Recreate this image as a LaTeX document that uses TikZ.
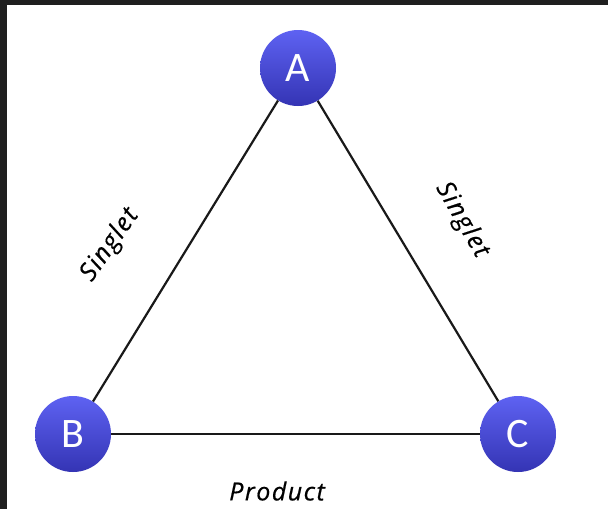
\documentclass[tikz,border=0pt]{standalone}
\usepackage{fontspec}
\setmainfont{Carlito}
\newfontfamily\labelfont[LetterSpace=6,FakeBold=0.6]{Open Sans}
\definecolor{darkbar}{HTML}{1F1F1F}
\definecolor{balltop}{HTML}{5E62F2}
\definecolor{ballbot}{HTML}{3434B4}
\begin{document}
\begin{tikzpicture}[x=1pt,y=-1pt,
  ball/.style={circle, minimum size=76pt, inner sep=0pt, top color=balltop, bottom color=ballbot, draw=none, text=white, font=\fontsize{42}{42}\selectfont},
  edge/.style={line width=2.2pt, black!90},
  lab/.style={font=\labelfont\itshape\fontsize{25}{25}\selectfont, inner sep=0pt}]
\useasboundingbox (0,0) rectangle (608,509);
\fill[white] (0,0) rectangle (608,509);
\fill[darkbar] (0,0) rectangle (608,5);
\fill[darkbar] (0,0) rectangle (7,509);
\node[ball] (A) at (298,68) {A};
\node[ball] (B) at (73,434) {B};
\node[ball] (C) at (518,434) {C};
\draw[edge] (A) -- (B);
\draw[edge] (A) -- (C);
\draw[edge] (B) -- (C);
\node[lab, rotate=55] (l1) at (110,245) {Singlet};
\node[lab, rotate=-60] (l2) at (462,220) {Singlet};
\node[lab] (l3) at (277,491) {Product};
\end{tikzpicture}
\end{document}
